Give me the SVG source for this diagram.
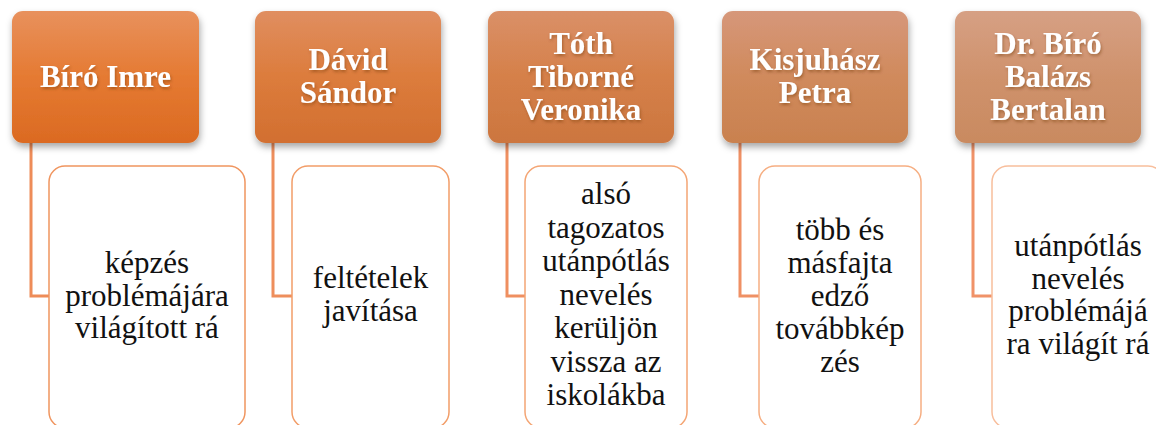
<svg xmlns="http://www.w3.org/2000/svg" width="1156" height="425" viewBox="0 0 1156 425">
  <defs>
    <linearGradient id="g1" x1="0" y1="0" x2="0" y2="1">
      <stop offset="0" stop-color="#E8915D"/><stop offset="0.5" stop-color="#E57A32"/><stop offset="1" stop-color="#DB6A22"/>
    </linearGradient>
    <linearGradient id="g2" x1="0" y1="0" x2="0" y2="1">
      <stop offset="0" stop-color="#E08E60"/><stop offset="0.5" stop-color="#DC7C3C"/><stop offset="1" stop-color="#D26F30"/>
    </linearGradient>
    <linearGradient id="g3" x1="0" y1="0" x2="0" y2="1">
      <stop offset="0" stop-color="#DA9068"/><stop offset="0.5" stop-color="#D58049"/><stop offset="1" stop-color="#CC763F"/>
    </linearGradient>
    <linearGradient id="g4" x1="0" y1="0" x2="0" y2="1">
      <stop offset="0" stop-color="#D6977A"/><stop offset="0.5" stop-color="#D08A5C"/><stop offset="1" stop-color="#C9814F"/>
    </linearGradient>
    <linearGradient id="g5" x1="0" y1="0" x2="0" y2="1">
      <stop offset="0" stop-color="#D6A084"/><stop offset="0.5" stop-color="#CF926C"/><stop offset="1" stop-color="#C98A60"/>
    </linearGradient>
    <filter id="sh" x="-10%" y="-10%" width="125%" height="130%">
      <feDropShadow dx="1" dy="4" stdDeviation="3.5" flood-color="#000" flood-opacity="0.35"/>
    </filter>
    <filter id="tsh" x="-10%" y="-10%" width="120%" height="130%">
      <feDropShadow dx="1" dy="2" stdDeviation="1.5" flood-color="#6a3010" flood-opacity="0.45"/>
    </filter>
  </defs>
  <style>
    .hdr { stroke: none; }
    .ht { font-family: "Liberation Serif", Tinos, "Times New Roman", "DejaVu Serif", serif; font-weight: bold; font-size: 31px; fill: #ffffff; text-anchor: middle; }
    .bx { fill: #ffffff; stroke-width: 1.5; }
    .bt { font-family: "Liberation Serif", Tinos, "Times New Roman", "DejaVu Serif", serif; font-size: 31px; fill: #111111; text-anchor: middle; }
    .con { fill: none; stroke-width: 3; }
  </style>
  <rect width="1156" height="425" fill="#ffffff"/>

  <g id="connectors">
    <path class="con" stroke="#EE8C58" d="M31,143 V296 H49"/>
    <path class="con" stroke="#EE8E5C" d="M273,143 V296 H292"/>
    <path class="con" stroke="#EF8F60" d="M507,143 V296 H525"/>
    <path class="con" stroke="#EF9064" d="M740,143 V296 H759"/>
    <path class="con" stroke="#F09268" d="M973,143 V296 H992"/>
  </g>

  <g id="node1">
    <rect class="hdr" x="12" y="11" width="187" height="132" rx="11" fill="url(#g1)" filter="url(#sh)"/>
    <text class="ht" x="105.5" y="87" font-family="Liberation Serif, serif" filter="url(#tsh)">Bíró Imre</text>
  </g>
  <g id="node2">
    <rect class="hdr" x="255" y="11" width="186" height="132" rx="11" fill="url(#g2)" filter="url(#sh)"/>
    <text class="ht" x="348" y="70" filter="url(#tsh)"><tspan x="348">Dávid</tspan><tspan x="348" dy="33">Sándor</tspan></text>
  </g>
  <g id="node3">
    <rect class="hdr" x="488" y="11" width="186" height="132" rx="11" fill="url(#g3)" filter="url(#sh)"/>
    <text class="ht" x="581" y="53.5" filter="url(#tsh)"><tspan x="581">Tóth</tspan><tspan x="581" dy="33">Tiborné</tspan><tspan x="581" dy="33">Veronika</tspan></text>
  </g>
  <g id="node4">
    <rect class="hdr" x="722" y="11" width="186" height="132" rx="11" fill="url(#g4)" filter="url(#sh)"/>
    <text class="ht" x="815" y="70" filter="url(#tsh)"><tspan x="815">Kisjuhász</tspan><tspan x="815" dy="33">Petra</tspan></text>
  </g>
  <g id="node5">
    <rect class="hdr" x="955" y="11" width="186" height="132" rx="11" fill="url(#g5)" filter="url(#sh)"/>
    <text class="ht" x="1048" y="53.5" filter="url(#tsh)"><tspan x="1048">Dr. Bíró</tspan><tspan x="1048" dy="33">Balázs</tspan><tspan x="1048" dy="33">Bertalan</tspan></text>
  </g>

  <g id="box1">
    <rect class="bx" x="49" y="166" width="196" height="262" rx="16" stroke="#F0955F"/>
    <text class="bt" x="147" y="273"><tspan x="147">képzés</tspan><tspan x="147" dy="32.5">problémájára</tspan><tspan x="147" dy="32.5">világított rá</tspan></text>
  </g>
  <g id="box2">
    <rect class="bx" x="292" y="166" width="157" height="262" rx="16" stroke="#F29D68"/>
    <text class="bt" x="370.5" y="288"><tspan x="370.5">feltételek</tspan><tspan x="370.5" dy="33">javítása</tspan></text>
  </g>
  <g id="box3">
    <rect class="bx" x="525" y="166" width="162" height="262" rx="16" stroke="#F4A574"/>
    <text class="bt" x="606" y="204"><tspan x="606">alsó</tspan><tspan x="606" dy="33.5">tagozatos</tspan><tspan x="606" dy="33.5">utánpótlás</tspan><tspan x="606" dy="33.5">nevelés</tspan><tspan x="606" dy="33.5">kerüljön</tspan><tspan x="606" dy="33.5">vissza az</tspan><tspan x="606" dy="33.5">iskolákba</tspan></text>
  </g>
  <g id="box4">
    <rect class="bx" x="759" y="166" width="162" height="262" rx="16" stroke="#F6AE82"/>
    <text class="bt" x="840" y="240"><tspan x="840">több és</tspan><tspan x="840" dy="33">másfajta</tspan><tspan x="840" dy="33">edző</tspan><tspan x="840" dy="33">továbbkép</tspan><tspan x="840" dy="33">zés</tspan></text>
  </g>
  <g id="box5">
    <rect class="bx" x="992" y="166" width="172" height="262" rx="16" stroke="#F8BE9C"/>
    <text class="bt" x="1078" y="256"><tspan x="1078">utánpótlás</tspan><tspan x="1078" dy="32.5">nevelés</tspan><tspan x="1078" dy="32.5">problémájá</tspan><tspan x="1078" dy="32.5">ra világít rá</tspan></text>
  </g>
</svg>
